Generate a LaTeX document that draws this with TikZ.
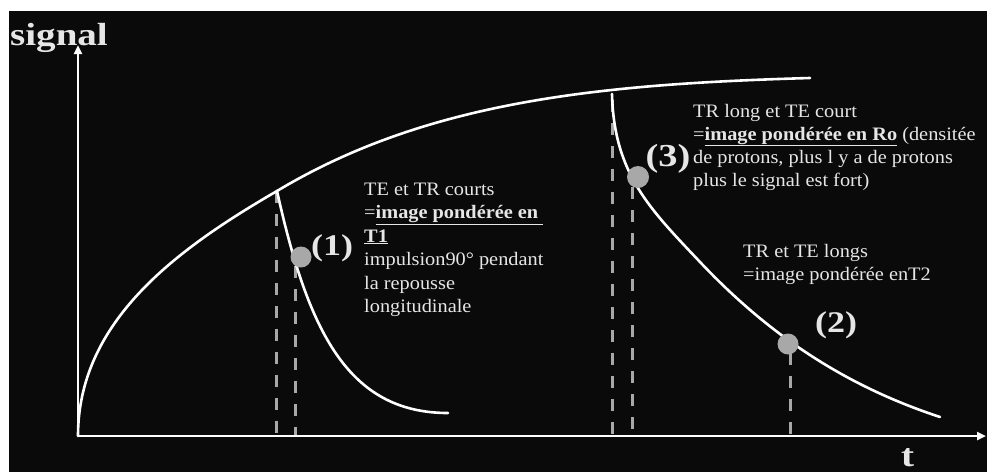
\documentclass[tikz,border=0pt]{standalone}
\usepackage{fontspec}
\setmainfont{Liberation Serif}[FakeStretch=1.07]
\newfontfamily\labfont{Liberation Serif}[FakeStretch=1.2]
\newfontfamily\titfont{Liberation Serif}[FakeStretch=1.22]
\usetikzlibrary{arrows.meta}
\definecolor{bg}{HTML}{0A0A0A}
\definecolor{txt}{HTML}{E6E6E6}
\definecolor{guidegray}{HTML}{A8A8A8}
\begin{document}
\begin{tikzpicture}[x=1pt,y=-1pt,
  curve/.style={white, line width=2.6pt, line cap=round},
  axis/.style={white, line width=2.6pt, -{Triangle[length=9pt,width=8pt]}},
  guide/.style={guidegray, line width=3pt, dash pattern=on 12pt off 11pt},
  dot/.style={circle, fill=guidegray, minimum size=21pt, inner sep=0pt},
  body/.style={text=txt, font=\fontsize{19}{23}\selectfont, anchor=base west, inner sep=0pt},
  lab/.style={text=txt, font=\labfont\bfseries\fontsize{30}{34}\selectfont, anchor=base, inner sep=0pt},
  tit/.style={text=txt, font=\titfont\bfseries\fontsize{32}{36}\selectfont, anchor=base west, inner sep=0pt},
]
\useasboundingbox (0,0) rectangle (987,472);
\fill[white] (0,0) rectangle (987,472);
\fill[bg] (9,11) rectangle (987,472);

% key points
\coordinate (O) at (78,436);
\coordinate (Ytip) at (78,45);
\coordinate (Xtip) at (986,436);
\coordinate (J1) at (277,191);
\coordinate (J2) at (612,94);
\coordinate (R) at (810,78);
\coordinate (M2) at (700,262);
\coordinate (E1) at (448,413);
\coordinate (E2) at (940,417);

% guide lines
\coordinate (g1t) at (276,191); \coordinate (g1b) at (276,436);
\coordinate (g2t) at (295,266); \coordinate (g2b) at (295,436);
\coordinate (g3t) at (612,100); \coordinate (g3b) at (612,436);
\coordinate (g4t) at (632,187); \coordinate (g4b) at (632,436);
\coordinate (g5t) at (790,353); \coordinate (g5b) at (790,436);
\draw[guide] (g1t) -- (g1b);
\draw[guide] (g2t) -- (g2b);
\draw[guide] (g3t) -- (g3b);
\draw[guide] (g4t) -- (g4b);
\draw[guide] (g5t) -- (g5b);

% rising curve
\draw[curve] (O) .. controls (78,321) and (177,249) .. (J1)
                 .. controls (427,101) and (600,84) .. (R);
% decay 1
\draw[curve] (J1) .. controls (308,331) and (348,413) .. (E1);
% decay 2
\draw[curve] (J2) .. controls (614,174) and (650,209) .. (M2)
                  .. controls (780,346.8) and (860,390.6) .. (E2);

% axes
\draw[axis] (O) -- (Ytip);
\draw[axis] (O) -- (Xtip);

% dots
\node[dot] (d1) at (301,257) {};
\node[dot, minimum size=22pt] (d3) at (638,177) {};
\node[dot] (d2) at (788,344) {};

% labels
\node[lab] (l1) at (332,255) {(1)};
\node[lab, font=\labfont\bfseries\fontsize{32}{36}\selectfont] (l3) at (668,166) {(3)};
\node[lab] (l2) at (836,332) {(2)};

\node[tit] (sig) at (10,45) {signal};
\node[tit] (tlab) at (901,466) {t};

% block 1
\node[body] (a1) at (364,195) {TE et TR courts};
\node[body] (a2) at (364,218.5) {=\underline{\textbf{image pondérée en\ }}};
\node[body] (a3) at (364,242) {\underline{\textbf{T1}}};
\node[body] (a4) at (364,265.5) {impulsion90° pendant};
\node[body] (a5) at (364,289) {la repousse};
\node[body] (a6) at (364,312.5) {longitudinale};

% block 3
\node[body] (b1) at (693,117) {TR long et TE court};
\node[body] (b2) at (693,140) {=\underline{\textbf{image pondérée en Ro}} (densitée};
\node[body] (b3) at (693,163) {de protons, plus l y a de protons};
\node[body] (b4) at (693,186) {plus le signal est fort)};

% block 2
\node[body] (c1) at (743,257) {TR et TE longs};
\node[body] (c2) at (743,280) {=image pondérée enT2};
\end{tikzpicture}
\end{document}
